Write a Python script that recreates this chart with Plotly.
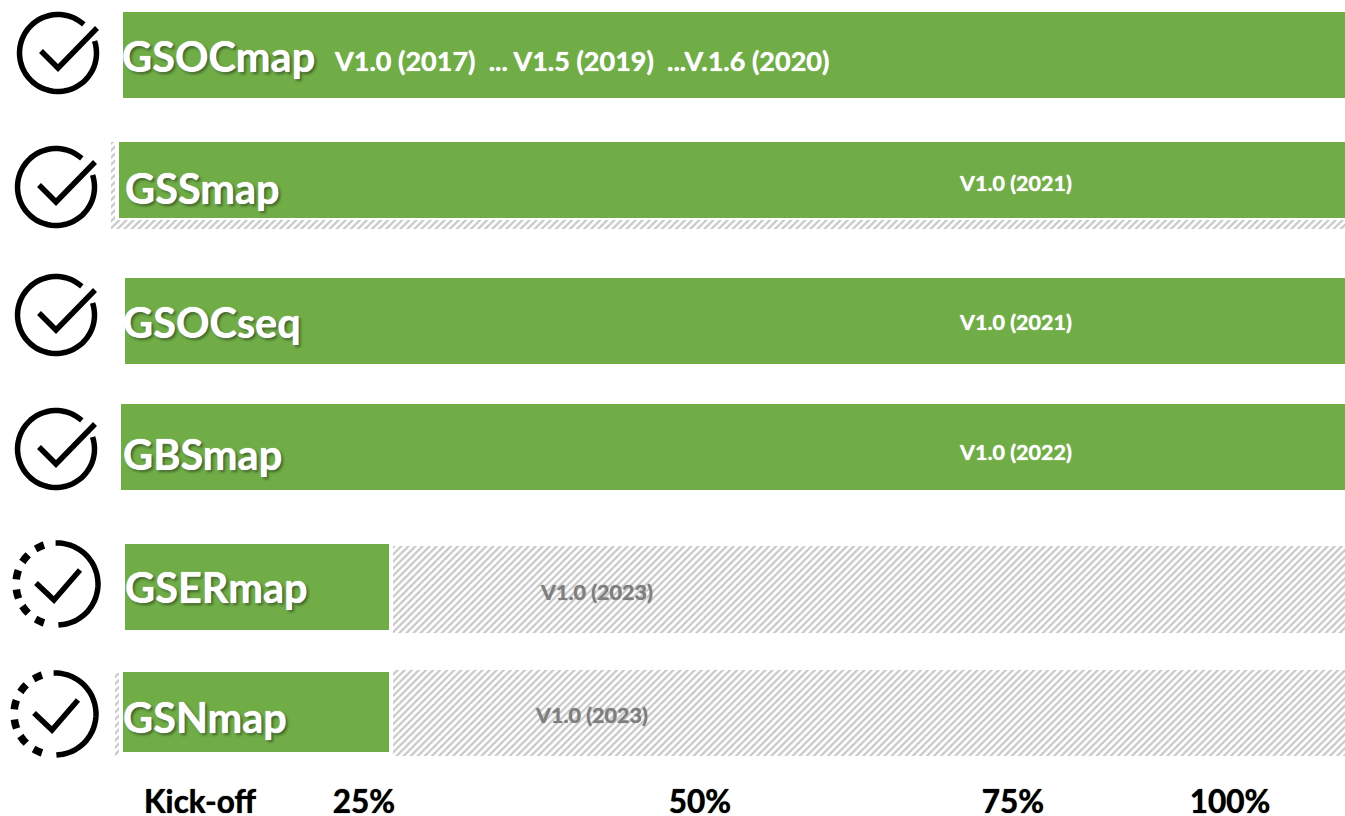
import math
import plotly.graph_objects as go

# Rows (top to bottom)
names = ["GSOCmap", "GSSmap", "GSOCseq", "GBSmap", "GSERmap", "GSNmap"]
bar_start = [123, 119, 125, 121, 125, 123]
bar_end = [1345, 1345, 1345, 1345, 389, 389]
bar_top = [12, 142, 278, 404, 544, 672]
bar_bottom = [98, 218, 364, 490, 630, 752]
done = [True, True, True, True, False, False]

# Hatched "remaining / surrounding" regions: start, end, top, bottom
hatch_start = [393, 393, 111, 111, 115]
hatch_end = [1345, 1345, 1345, 115, 119]
hatch_top = [546, 670, 220, 142, 673]
hatch_bottom = [633, 756, 229, 220, 756]

# Version labels
version_text = ["V1.0 (2017)  ... V1.5 (2019)  ...V.1.6 (2020)", "V1.0 (2021)", "V1.0 (2021)",
                "V1.0 (2022)", "V1.0 (2023)", "V1.0 (2023)"]
version_x = [332, 957, 957, 957, 538, 533]
version_y = [60, 183, 322, 452, 592, 715]
version_size = [27, 21.5, 21.5, 21.5, 21.5, 21.5]
version_color = ["white", "white", "white", "white", "#7f7f7f", "#7f7f7f"]

name_x = [120, 123, 121, 121, 123, 121]
name_y = [56, 188, 322, 454, 587, 717]

# Milestone ticks
tick_pos = [200, 364, 700, 1013, 1230]
tick_labels = ["Kick-off", "25%", "50%", "75%", "100%"]

# Icons
icon_x = [58, 56, 56, 56, 57, 55]
icon_y = [53, 187, 315, 449, 584, 714]

GREEN = "#70ad47"
FONT = "Lato"

fig = go.Figure()

fig.add_trace(go.Bar(
    orientation="h",
    y=[(a + b) / 2 for a, b in zip(hatch_top, hatch_bottom)],
    x=[e - s for s, e in zip(hatch_start, hatch_end)],
    base=hatch_start,
    width=[b - a for a, b in zip(hatch_top, hatch_bottom)],
    marker=dict(color="white", line_width=0,
                pattern=dict(shape="/", fgcolor="#8f8f8f", bgcolor="white", size=5, solidity=0.45)),
    hoverinfo="skip", showlegend=False,
))
fig.add_trace(go.Bar(
    orientation="h",
    y=[(a + b) / 2 for a, b in zip(bar_top, bar_bottom)],
    x=[e - s for s, e in zip(bar_start, bar_end)],
    base=bar_start,
    width=[b - a for a, b in zip(bar_top, bar_bottom)],
    marker=dict(color=GREEN, line_width=0),
    hoverinfo="skip", showlegend=False,
))

shadow = "0 0 1px white, 2px 2px 3px rgba(0,0,0,0.45)"
for n, x, y in zip(names, name_x, name_y):
    fig.add_annotation(x=x, y=y, text=f"<b>{n}</b>", showarrow=False, xanchor="left", yanchor="middle",
                       font=dict(family=FONT, size=41.5, color="white", shadow=shadow))
for t, x, y, s, c in zip(version_text, version_x, version_y, version_size, version_color):
    fig.add_annotation(x=x, y=y, text=f"<b>{t}</b>", showarrow=False, xanchor="left", yanchor="middle",
                       font=dict(family=FONT, size=s, color=c, shadow=f"0 0 1px {c}"))


def arc(cx, cy, r, a0, a1, n=60):
    """Angles clockwise from 12 o'clock, degrees."""
    pts = []
    for i in range(n + 1):
        a = math.radians(a0 + (a1 - a0) * i / n)
        pts.append((cx + r * math.sin(a), cy - r * math.cos(a)))
    return "M" + " L".join(f"{x:.1f},{y:.1f}" for x, y in pts)


shapes = []
line = dict(color="black", width=5.5)
for cx, cy, d in zip(icon_x, icon_y, done):
    if d:
        shapes.append(dict(type="path", path=arc(cx, cy, 38.5, 72, 402), line=line, layer="above"))
        chk = f"M{cx-17},{cy-2} L{cx},{cy+15} L{cx+39},{cy-25}"
    else:
        shapes.append(dict(type="path", path=arc(cx, cy, 41, -2, 178), line=line, layer="above"))
        for a in (205, 231, 256, 283, 309, 335):
            shapes.append(dict(type="path", path=arc(cx, cy, 41, a - 6.5, a + 6.5, 6),
                               line=dict(color="black", width=7.5), layer="above"))
        chk = f"M{cx-21},{cy-1} L{cx-3},{cy+16} L{cx+23},{cy-14}"
    shapes.append(dict(type="path", path=chk, line=line, layer="above"))

fig.update_layout(
    width=1345, height=816, margin=dict(l=0, r=0, t=0, b=36, autoexpand=False),
    plot_bgcolor="white", paper_bgcolor="white",
    barmode="overlay", bargap=0, shapes=shapes, showlegend=False,
    xaxis=dict(range=[0, 1345], showgrid=False, zeroline=False, showline=False, automargin=False,
               tickmode="array", tickvals=tick_pos, ticktext=[f"<b>{t}</b>" for t in tick_labels],
               ticks="", tickfont=dict(family=FONT, size=31.5, color="black",
                                       shadow="0 0 1px black")),
    yaxis=dict(range=[780, 0], showgrid=False, zeroline=False, showline=False, visible=False),
)

fig.write_html("out.html", config={"displayModeBar": False},
               post_script="document.body.style.margin='0';document.body.style.overflow='hidden';")
